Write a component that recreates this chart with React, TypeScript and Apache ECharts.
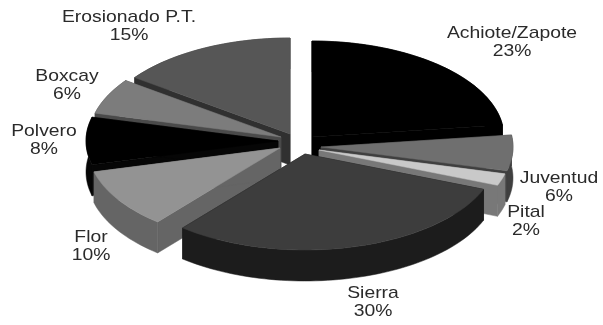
import React, { useEffect, useRef } from "react";
import * as echarts from "echarts";

// Data
const categories = ["Achiote/Zapote", "Juventud", "Pital", "Sierra", "Flor", "Polvero", "Boxcay", "Erosionado P.T."];
const shares = [23, 6, 2, 30, 10, 8, 6, 15];

// Styles and layout
const topColors = ["#000000", "#6f6f6f", "#c9c9c9", "#3d3d3d", "#939393", "#000000", "#7c7c7c", "#565656"];
const sideColors = ["#000000", "#3f3f3f", "#787878", "#1c1c1c", "#656565", "#060606", "#4a4a4a", "#303030"];
const explodeX = [12, 21, 19, 5, -20, -22, -19, -10];
const explodeY = [-6, 4, 7, 11, 5, -2, -6, -9];
const labelX = [512, 559, 526, 373, 91, 44, 67, 129];
const labelY = [42, 187, 221, 302, 246, 140, 85, 26];
const drawOrder = [7, 0, 6, 5, 1, 4, 2, 3];
const CX = 300, CY = 143, RX = 192, RY = 96, DEPTH = 31;

function renderSlice(params: any, api: any) {
  const i = api.value(0) as number;
  const total = shares.reduce((a, b) => a + b, 0);
  const before = shares.slice(0, i).reduce((a, b) => a + b, 0);
  const a0 = (before / total) * Math.PI * 2;
  const a1 = ((before + shares[i]) / total) * Math.PI * 2;
  const ax = CX + explodeX[i];
  const ay = CY + explodeY[i];
  const steps = Math.max(6, Math.ceil((a1 - a0) / 0.03));
  const arc: number[][] = [];
  for (let k = 0; k <= steps; k++) {
    const t = a0 + ((a1 - a0) * k) / steps;
    arc.push([ax + RX * Math.sin(t), ay - RY * Math.cos(t)]);
  }
  const down = (p: number[]) => [p[0], p[1] + DEPTH];
  const first = arc[0];
  const last = arc[arc.length - 1];
  const apex = [ax, ay];
  const side = { fill: sideColors[i], stroke: sideColors[i], lineWidth: 0.5 };
  return {
    type: "group",
    children: [
      { type: "polygon", shape: { points: [apex, first, down(first), down(apex)] }, style: side },
      { type: "polygon", shape: { points: [apex, last, down(last), down(apex)] }, style: side },
      { type: "polygon", shape: { points: [...arc, ...arc.slice().reverse().map(down)] }, style: side },
      { type: "polygon", shape: { points: [apex, ...arc] }, style: { fill: topColors[i], stroke: topColors[i], lineWidth: 0.5 } },
      {
        type: "text",
        x: labelX[i],
        y: labelY[i],
        scaleX: 1.21,
        style: {
          x: 0,
          y: 0,
          text: `${categories[i]}\n${shares[i]}%`,
          fill: "#2a2a2a",
          fontSize: 16,
          fontFamily: "Liberation Sans, Arial, sans-serif",
          lineHeight: 18,
          textAlign: "center",
          textVerticalAlign: "middle",
        },
      },
    ],
  };
}

export default function App() {
  const ref = useRef<HTMLDivElement>(null);
  useEffect(() => {
    document.body.style.margin = "0";
    const chart = echarts.init(ref.current!, undefined, { renderer: "svg" });
    chart.setOption({
      animation: false,
      backgroundColor: "#ffffff",
      series: [
        {
          type: "custom",
          coordinateSystem: "none",
          renderItem: renderSlice,
          data: drawOrder.map((i) => [i]),
          silent: true,
        },
      ],
    });
    return () => chart.dispose();
  }, []);
  return <div ref={ref} style={{ width: 603, height: 325, filter: "blur(0.5px)" }} />;
}
